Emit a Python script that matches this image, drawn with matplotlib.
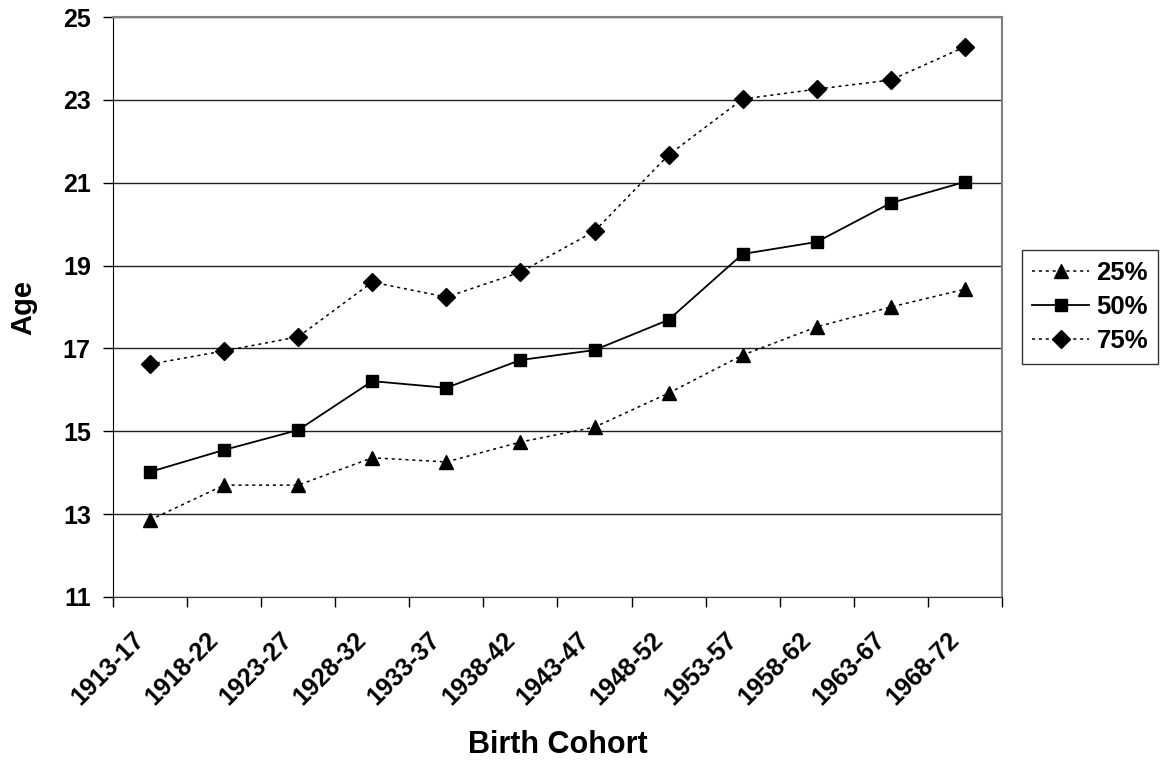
import numpy as np
import matplotlib.pyplot as plt
from matplotlib.transforms import ScaledTranslation

plt.rcParams['font.family'] = ['Liberation Sans', 'DejaVu Sans']
plt.rcParams['font.weight'] = 'bold'

cohorts = ['1913-17', '1918-22', '1923-27', '1928-32', '1933-37', '1938-42',
           '1943-47', '1948-52', '1953-57', '1958-62', '1963-67', '1968-72']
p25 = [12.86, 13.70, 13.70, 14.36, 14.26, 14.74, 15.10, 15.92, 16.84, 17.52, 18.00, 18.43]
p50 = [14.02, 14.55, 15.03, 16.21, 16.05, 16.72, 16.96, 17.69, 19.28, 19.57, 20.51, 21.02]
p75 = [16.62, 16.94, 17.28, 18.60, 18.24, 18.84, 19.83, 21.67, 23.02, 23.26, 23.48, 24.28]

fig = plt.figure(figsize=(11.66, 7.6), dpi=100)
ax = fig.add_axes([0.0969, 0.2145, 0.7624, 0.7631])

x = np.arange(len(cohorts))
dots = (0, (2, 2.5))
ax.plot(x, p25, color='black', lw=1.1, ls=dots, marker='^', ms=10, label='25%')
ax.plot(x, p50, color='black', lw=1.3, ls='-', marker='s', ms=9, label='50%')
ax.plot(x, p75, color='black', lw=1.1, ls=dots, marker='D', ms=9, label='75%')

ax.set_xlim(-0.5, len(cohorts) - 0.5)
ax.set_ylim(11, 25)
ax.set_yticks(np.arange(11, 26, 2))
ax.yaxis.grid(True, color='#222222', lw=1)
ax.set_axisbelow(True)

# category labels at centres, tick marks on the boundaries
ax.set_xticks(x)
ax.set_xticklabels(cohorts, rotation=45, ha='right', va='top', rotation_mode='anchor')
ax.set_xticks(np.arange(-0.5, len(cohorts)), minor=True)
ax.tick_params(axis='x', which='major', length=0, pad=22, labelsize=18)
ax.tick_params(axis='x', which='minor', length=7, width=1, direction='out')
ax.tick_params(axis='y', length=7, width=1, direction='out', labelsize=18, pad=9)
shift = ScaledTranslation(-0.18, 0, fig.dpi_scale_trans)
for lbl in ax.get_xticklabels():
    lbl.set_transform(lbl.get_transform() + shift)

for side in ['top', 'right']:
    ax.spines[side].set_color('#808080')
    ax.spines[side].set_linewidth(1.5)
ax.spines['left'].set_color('black')
ax.spines['bottom'].set_color('#333333')

ax.set_xlabel('Birth Cohort', fontsize=22, fontweight='bold', labelpad=15)
ax.set_ylabel('Age', fontsize=21, fontweight='bold', labelpad=18)

leg = ax.legend(loc='center left', bbox_to_anchor=(1.0226, 0.5), borderaxespad=0,
                frameon=True, fancybox=False, edgecolor='black', fontsize=18.5,
                handlelength=2.2, borderpad=0.4, labelspacing=0.4, handletextpad=0.3)
leg.get_frame().set_linewidth(1)

fig.savefig('out.png', dpi=100)
